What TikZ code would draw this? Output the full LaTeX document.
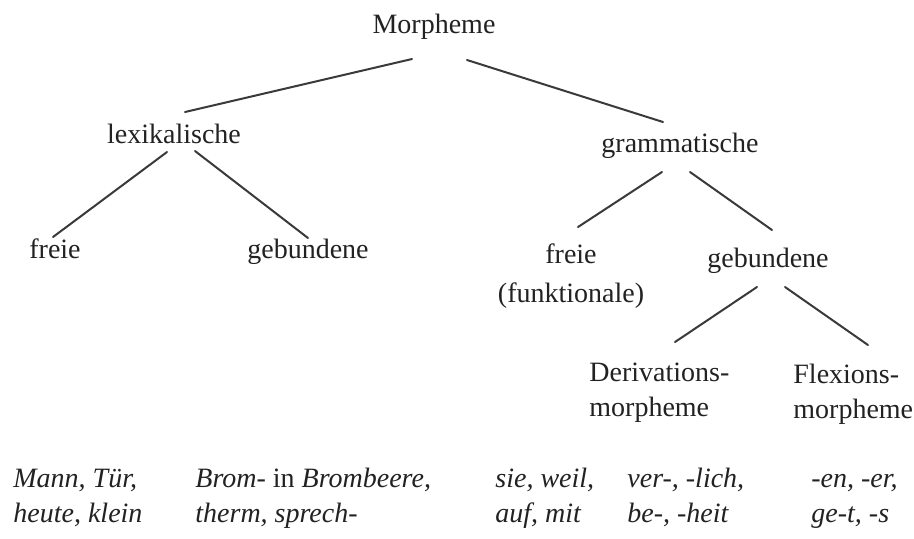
\documentclass[tikz,border=0pt]{standalone}
\usepackage{fontspec}
\setmainfont{Liberation Serif}
\usepackage{tikz}
\usetikzlibrary{calc}
\definecolor{Ink}{HTML}{222222}
\definecolor{Branch}{HTML}{3A3A3A}

\begin{document}
\begin{tikzpicture}[x=0.5pt, y=-0.5pt, font=\fontsize{14}{17.5}\selectfont,
    every node/.style={inner sep=0pt, text=Ink},
    term/.style={anchor=base},
    sub/.style={anchor=base west, align=left},
    branch/.style={line width=1pt, color=Branch, line cap=round}]
    \useasboundingbox[fill=white] (0,0) rectangle (914,538);
    % tree (multi-line nodes sit on their last baseline)
    \node[term] (mo) at (434,33) {Morpheme};
    \node[term] (lex) at (174,143) {lexikalische};
    \node[term] (gra) at (680,152) {grammatische};
    \node[term] (lfrei) at (55,258) {freie};
    \node[term] (lgeb) at (308,258) {gebundene};
    \node[term, align=center] (gfrei) at (571,302) {freie\\[2pt](funktionale)};
    \node[term] (ggeb) at (768,267) {gebundene};
    \node[sub] (der) at (589,416) {Derivations-\\morpheme};
    \node[sub] (flex) at (793,418) {Flexions-\\morpheme};
    % examples
    \node[sub] (exlfrei) at (13,522) {\textit{Mann, Tür,}\\\textit{heute, klein}};
    \node[sub] (exlgeb) at (195,522) {\textit{Brom-} in \textit{Brombeere,}\\\textit{therm, sprech-}};
    \node[sub] (exgfrei) at (495,522) {\textit{sie, weil,}\\\textit{auf, mit}};
    \node[sub] (exder) at (627,522) {\textit{ver-, -lich,}\\\textit{be-, -heit}};
    \node[sub] (exflex) at (811,522) {\textit{-en, -er,}\\\textit{ge-t, -s}};
    % branches
    \draw[branch] ($(mo.base)+(-22,26)$) -- ($(lex.base)+(11,-31)$);
    \draw[branch] ($(mo.base)+(33,27)$) -- ($(gra.base)+(-17,-30)$);
    \draw[branch] ($(lex.base)+(-7,9)$) -- ($(lfrei.base)+(-2,-21)$);
    \draw[branch] ($(lex.base)+(21,8)$) -- ($(lgeb.base)+(0,-20)$);
    \draw[branch] ($(gra.base)+(-18,20)$) -- ($(gfrei.base)+(7,-75)$);
    \draw[branch] ($(gra.base)+(10,20)$) -- ($(ggeb.base)+(4,-37)$);
    \draw[branch] ($(ggeb.base)+(-11,20)$) -- ($(der.base west)+(86,-74)$);
    \draw[branch] ($(ggeb.base)+(17,20)$) -- ($(flex.base west)+(75,-73)$);
\end{tikzpicture}
\end{document}
